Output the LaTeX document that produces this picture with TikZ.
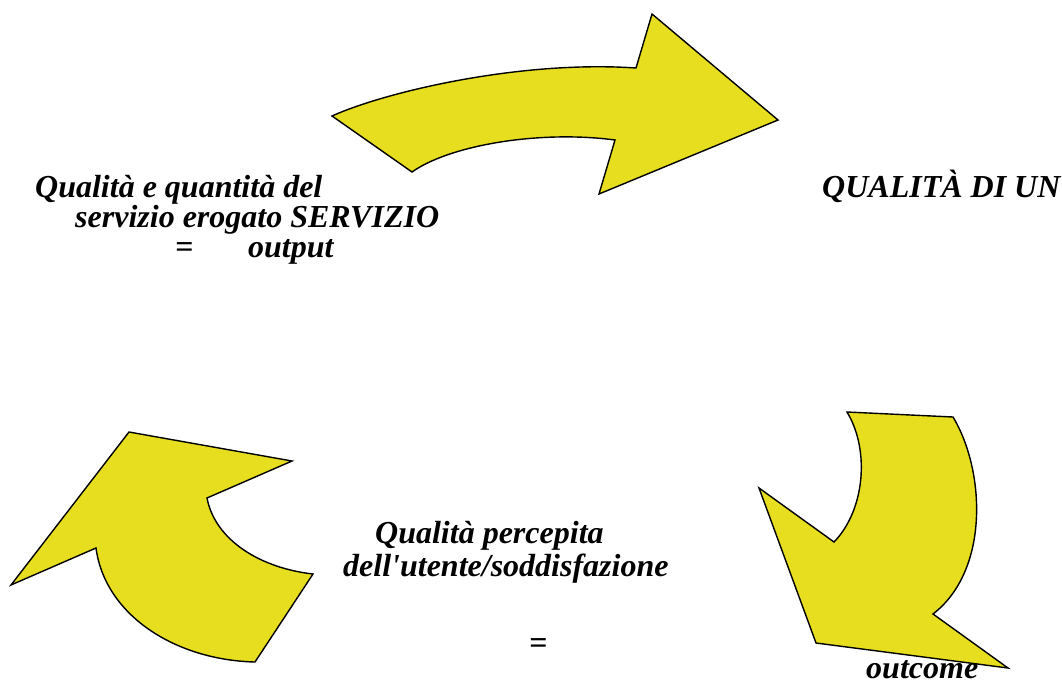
\documentclass[tikz,border=0pt]{standalone}
\usepackage{fontspec}
\setmainfont{Liberation Serif}
\usepackage{tikz}
\definecolor{arrowyellow}{RGB}{230,222,30}
\tikzset{bigarrow/.style={draw=black,line width=1.4pt,line join=miter,fill=arrowyellow}}
\tikzset{etext/.style={anchor=base west,inner sep=0pt,font=\fontsize{32}{28}\selectfont\bfseries\itshape}}

\begin{document}
\begin{tikzpicture}[x=1pt,y=-1pt]
    \useasboundingbox (0,0) rectangle (1062,686);
    % top arrow
    \draw[bigarrow] (332,116) .. controls (385,92) and (520,60) .. (636,68)
        -- (652,14) -- (778,120) -- (599,194) -- (615,140)
        .. controls (540,130) and (450,145) .. (412,172) -- cycle;
    % right arrow
    \draw[bigarrow] (847,412) -- (953,417)
        .. controls (985,470) and (990,570) .. (933,614)
        -- (1008,668) -- (816,643) -- (759,488) -- (834,542)
        .. controls (865,510) and (870,450) .. (847,412) -- cycle;
    % left arrow
    \draw[bigarrow] (129,432) -- (292,461) -- (207,498)
        .. controls (215,540) and (260,568) .. (313,574)
        -- (255,662) .. controls (175,660) and (105,615) .. (96,548)
        -- (11,585) -- cycle;
    % texts
    \node[etext] (q1) at (35,197) {Qualità e quantità del};
    \node[etext] (q2) at (75,227) {servizio erogato SERVIZIO};
    \node[etext] (eq1) at (175,257) {=};
    \node[etext] (out) at (248,257) {output};
    \node[etext] (title) at (822,197) {QUALITÀ DI UN};
    \node[etext] (p1) at (375,543) {Qualità percepita};
    \node[etext] (p2) at (343,576) {dell\textquotesingle utente/soddisfazione};
    \node[etext] (eq2) at (529,653) {=};
    \node[etext] (outc) at (866,678) {outcome};
\end{tikzpicture}
\end{document}
